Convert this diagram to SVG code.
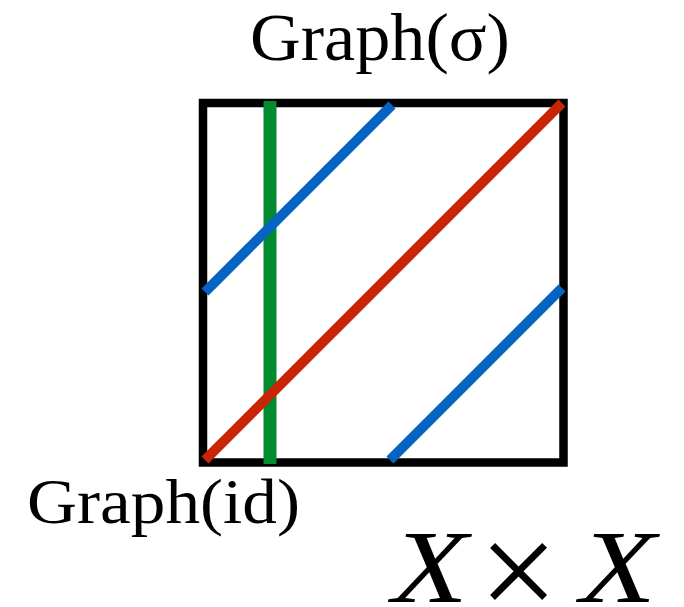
<svg xmlns="http://www.w3.org/2000/svg" width="684" height="607" viewBox="0 0 684 607">
<style>
.lbl{font-family:"Liberation Serif","Times New Roman",serif;fill:#000}
.seg{fill:none;stroke-linecap:butt}
</style>
<rect width="684" height="607" fill="#fff"/>
<g id="square">
<rect x="203" y="103" width="360.5" height="359.5" fill="#fff" stroke="#000" stroke-width="8.5"/>
</g>
<g id="connectors">
<line class="seg" x1="270" y1="101" x2="270" y2="464" stroke="#028A2E" stroke-width="13"/>
<line class="seg" x1="205" y1="460" x2="562" y2="103" stroke="#C82506" stroke-width="10"/>
<line class="seg" x1="205" y1="292" x2="392" y2="105" stroke="#0563C1" stroke-width="10"/>
<line class="seg" x1="390" y1="460" x2="562" y2="288" stroke="#0563C1" stroke-width="10"/>
</g>
<g id="label-sigma">
<text class="lbl" x="250" y="60" font-size="68" textLength="260" lengthAdjust="spacingAndGlyphs">Graph(σ)</text>
</g>
<g id="label-id">
<text class="lbl" x="27" y="523" font-size="63" textLength="273" lengthAdjust="spacingAndGlyphs">Graph(id)</text>
</g>
<g id="label-product">
<text class="lbl" x="392" y="602" font-size="104" font-style="italic" textLength="76" lengthAdjust="spacingAndGlyphs">X</text>
<text class="lbl" x="479" y="618" font-size="140">×</text>
<text class="lbl" x="580" y="602" font-size="104" font-style="italic" textLength="76" lengthAdjust="spacingAndGlyphs">X</text>
</g>
</svg>
